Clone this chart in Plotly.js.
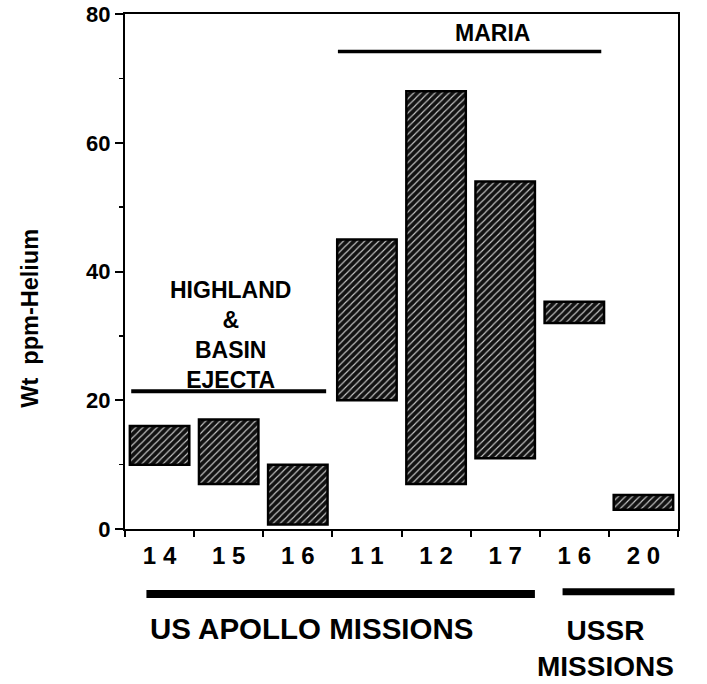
<!DOCTYPE html>
<html>
<head>
<meta charset="utf-8">
<script src="https://cdn.plot.ly/plotly-3.0.1.min.js"></script>
<style>html,body{margin:0;padding:0;background:#fff;}#chart{width:707px;height:684px;}</style>
</head>
<body>
<div id="chart"></div>
<script>
// Mission labels (x categories, in drawing order)
const missionLabels = ['1 4', '1 5', '1 6', '1 1', '1 2', '1 7', '1 6', '2 0'];
// Helium range, wt ppm
const heliumLow  = [10, 7, 0.7, 20, 7, 11, 32, 3];
const heliumHigh = [16, 17, 10, 45, 68, 54, 35.3, 5.3];
const yTickVals = [0, 20, 40, 60, 80];

const xPos = missionLabels.map((_, i) => i);
const bold = 'Liberation Sans, Arial, sans-serif';

const trace = {
  type: 'bar',
  x: xPos,
  y: heliumHigh.map((h, i) => h - heliumLow[i]),
  base: heliumLow,
  width: 0.86,
  marker: {
    color: '#111',
    line: {color: '#000', width: 2.5},
    pattern: {shape: '/', bgcolor: '#121212', fgcolor: '#c8c8c8', size: 5, solidity: 0.22}
  },
  hoverinfo: 'skip'
};

const layout = {
  width: 707, height: 684,
  margin: {l: 125, r: 29, t: 14, b: 155},
  paper_bgcolor: '#fff', plot_bgcolor: '#fff',
  showlegend: false,
  xaxis: {
    range: [-0.5, 7.5],
    tickmode: 'array', tickvals: xPos, ticktext: missionLabels,
    ticks: '', showgrid: false, zeroline: false,
    showline: true, linecolor: '#000', linewidth: 2, mirror: true,
    tickfont: {family: bold, size: 24, color: '#000', weight: 'bold'},
    ticklabelstandoff: 4,
    minor: {tickmode: 'linear', tick0: -0.5, dtick: 1, ticks: 'outside', ticklen: 6, tickwidth: 2, tickcolor: '#000', showgrid: false}
  },
  yaxis: {
    range: [0, 80.02],
    tickmode: 'array', tickvals: yTickVals,
    ticks: 'outside', ticklen: 8, tickwidth: 2, tickcolor: '#000',
    ticklabeloverflow: 'allow',
    showgrid: false, zeroline: false,
    showline: true, linecolor: '#000', linewidth: 2, mirror: true,
    tickfont: {family: bold, size: 22, color: '#000', weight: 'bold'},
    minor: {tickmode: 'linear', tick0: 10, dtick: 20, ticks: 'outside', ticklen: 4, tickwidth: 1.5, tickcolor: '#000', showgrid: false}
  },
  shapes: [
    {type: 'line', xref: 'x', yref: 'y', x0: -0.41, x1: 2.41, y0: 21.4, y1: 21.4, line: {color: '#000', width: 4}},
    {type: 'line', xref: 'x', yref: 'y', x0: 2.58, x1: 6.39, y0: 74.2, y1: 74.2, line: {color: '#000', width: 3.5}},
    {type: 'line', xref: 'x', yref: 'paper', x0: -0.19, x1: 5.43, y0: -0.126, y1: -0.126, line: {color: '#000', width: 8}},
    {type: 'line', xref: 'x', yref: 'paper', x0: 5.83, x1: 7.45, y0: -0.122, y1: -0.122, line: {color: '#000', width: 7}}
  ],
  annotations: [
    {xref: 'x', yref: 'y', x: 1.03, y: 30.1, text: 'HIGHLAND<br>&<br>BASIN<br>EJECTA', showarrow: false,
     font: {family: bold, size: 23, color: '#000', weight: 'bold'}},
    {xref: 'x', yref: 'y', x: 4.82, y: 77.05, text: 'MARIA', showarrow: false,
     font: {family: bold, size: 23, color: '#000', weight: 'bold'}},
    {xref: 'x', yref: 'paper', x: 2.2, y: -0.195, yshift: -18, text: 'US APOLLO MISSIONS', showarrow: false,
     font: {family: bold, size: 29.5, color: '#000', weight: 'bold'}},
    {xref: 'x', yref: 'paper', x: 6.45, y: -0.2, yshift: -16, yanchor: 'middle', text: 'USSR<br>MISSIONS', showarrow: false,
     font: {family: bold, size: 28, color: '#000', weight: 'bold'}},
    {xref: 'paper', yref: 'paper', x: -0.172, y: 0.41, text: 'Wt  ppm-Helium', textangle: -90, showarrow: false,
     xanchor: 'center', yanchor: 'middle',
     font: {family: bold, size: 23.5, color: '#000', weight: 'bold'}}
  ]
};

Plotly.newPlot('chart', [trace], layout, {displayModeBar: false, staticPlot: true});
</script>
</body>
</html>
